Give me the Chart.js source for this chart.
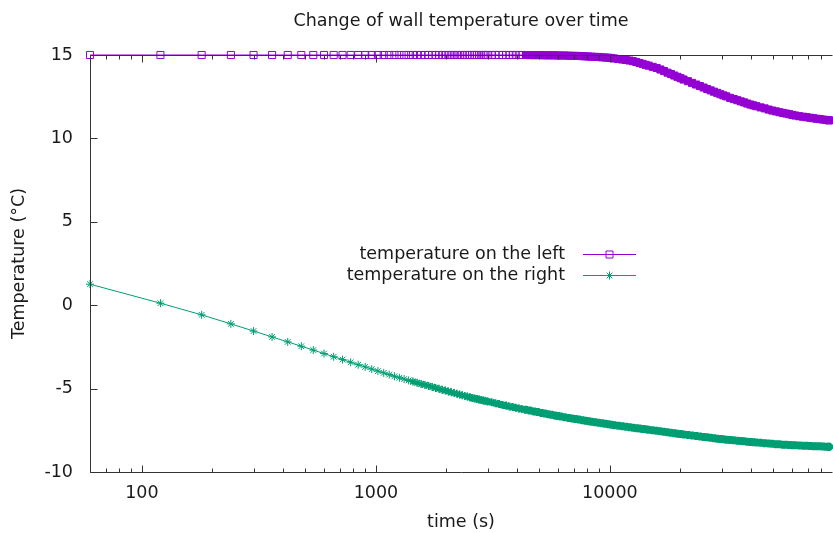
<!DOCTYPE html>
<html>
<head>
<meta charset="utf-8">
<script src="https://cdn.jsdelivr.net/npm/chart.js@4/dist/chart.umd.min.js"></script>
<style>
  body { margin: 0; background: #fff; }
  #chart { display: block; }
</style>
</head>
<body>
<canvas id="chart" width="833" height="533"></canvas>
<script>
const TITLE = 'Change of wall temperature over time';
const X_TITLE = 'time (s)';
const Y_TITLE = 'Temperature (°C)';

// time in seconds
const times = [
    60, 120, 180, 240, 300, 360, 420, 480, 540, 600,
    660, 720, 780, 840, 900, 960, 1020, 1080, 1140, 1200,
    1260, 1320, 1380, 1440, 1500, 1560, 1620, 1680, 1740, 1800,
    1860, 1920, 1980, 2040, 2100, 2160, 2220, 2280, 2340, 2400,
    2460, 2520, 2580, 2640, 2700, 2760, 2820, 2880, 2940, 3000,
    3120, 3240, 3360, 3480, 3600, 3720, 3840, 3960, 4080, 4200,
    4380, 4560, 4740, 4920, 5100, 5280, 5460, 5640, 5820, 6000, 6180,
    6420, 6660, 6900, 7140, 7380, 7620, 7860, 8100, 8340,
    8640, 8940, 9240, 9540, 9840, 10140, 10440,
    10860, 11280, 11700, 12120, 12540, 12960, 13380, 13800, 14220, 14640,
    15240, 15840, 16440, 17040, 17640, 18240, 18840, 19440, 20040, 20640,
    21540, 22440, 23340, 24240, 25140, 26040, 26940, 27840, 28740, 29640, 30540, 31440,
    32640, 33840, 35040, 36240, 37440, 38640, 39840, 41040, 42240,
    44040, 45840, 47640, 49440, 51240, 53040, 54840, 56640, 58440, 60240, 62040,
    64440, 66840, 69240, 71640, 74040, 76440, 78840, 81240, 83640, 86040,
    86400
];

const leftTemp = [
    15, 15, 15, 15, 15, 15, 15, 15, 15, 15,
    15, 15, 15, 15, 15, 15, 15, 15, 15, 15,
    15, 15, 15, 15, 15, 15, 15, 15, 15, 15,
    15, 15, 15, 15, 15, 15, 15, 15, 15, 15,
    15, 15, 15, 15, 15, 15, 15, 15, 15, 15,
    15, 15, 15, 15, 15, 15, 15, 15, 15, 15,
    15.00, 14.99, 14.99, 14.99, 14.99, 14.98, 14.98, 14.98, 14.98, 14.97, 14.97,
    14.97, 14.96, 14.95, 14.95, 14.94, 14.93, 14.92, 14.91, 14.90,
    14.89, 14.88, 14.86, 14.85, 14.84, 14.82, 14.79,
    14.76, 14.73, 14.70, 14.67, 14.63, 14.58, 14.52, 14.47, 14.41, 14.36,
    14.29, 14.22, 14.13, 14.04, 13.94, 13.86, 13.77, 13.69, 13.61, 13.53,
    13.43, 13.33, 13.23, 13.14, 13.05, 12.96, 12.88, 12.80, 12.73, 12.65, 12.58, 12.52,
    12.43, 12.36, 12.29, 12.22, 12.16, 12.09, 12.03, 11.98, 11.93,
    11.86, 11.80, 11.73, 11.67, 11.62, 11.57, 11.53, 11.49, 11.45, 11.41, 11.37,
    11.33, 11.30, 11.27, 11.24, 11.21, 11.18, 11.16, 11.13, 11.11, 11.09,
    11.08
];

const rightTemp = [
    1.26, 0.12, -0.58, -1.12, -1.55, -1.90, -2.20, -2.46, -2.69, -2.90,
    -3.09, -3.26, -3.42, -3.57, -3.70, -3.83, -3.95, -4.06, -4.16, -4.26,
    -4.35, -4.43, -4.51, -4.58, -4.65, -4.72, -4.78, -4.84, -4.90, -4.96,
    -5.01, -5.07, -5.12, -5.17, -5.22, -5.27, -5.31, -5.36, -5.40, -5.44,
    -5.48, -5.52, -5.56, -5.59, -5.62, -5.65, -5.68, -5.71, -5.74, -5.77,
    -5.82, -5.88, -5.93, -5.98, -6.02, -6.07, -6.11, -6.15, -6.19, -6.22,
    -6.27, -6.32, -6.37, -6.41, -6.46, -6.50, -6.54, -6.57, -6.61, -6.65, -6.68,
    -6.72, -6.76, -6.80, -6.83, -6.86, -6.89, -6.92, -6.95, -6.98,
    -7.01, -7.04, -7.07, -7.10, -7.13, -7.16, -7.19,
    -7.22, -7.25, -7.28, -7.31, -7.34, -7.37, -7.39, -7.42, -7.44, -7.47,
    -7.50, -7.53, -7.56, -7.59, -7.62, -7.65, -7.67, -7.70, -7.72, -7.75,
    -7.78, -7.81, -7.84, -7.87, -7.90, -7.92, -7.95, -7.97, -8.00, -8.02, -8.04, -8.06,
    -8.08, -8.10, -8.12, -8.14, -8.16, -8.18, -8.20, -8.21, -8.23,
    -8.25, -8.27, -8.29, -8.31, -8.33, -8.34, -8.36, -8.37, -8.38, -8.39, -8.40,
    -8.41, -8.42, -8.43, -8.44, -8.45, -8.46, -8.46, -8.47, -8.48, -8.49,
    -8.49
];

const xTicks = [100, 1000, 10000];
const xMinorTicks = [70, 80, 90, 200, 300, 400, 500, 600, 700, 800, 900,
    2000, 3000, 4000, 5000, 6000, 7000, 8000, 9000,
    20000, 30000, 40000, 50000, 60000, 70000, 80000];
const yTicks = [-10, -5, 0, 5, 10, 15];

const FONT = '"DejaVu Sans", sans-serif';
const FONT_SIZE = 17.5;
const TEXT_COLOR = '#1a1a1a';
const AXIS_COLOR = '#333333';
const DENSE_FROM = 4300; // markers merge into a solid band past here

Chart.defaults.font.family = FONT;
Chart.defaults.font.size = FONT_SIZE;
Chart.defaults.color = TEXT_COLOR;

function drawMarker(ctx, style, x, y, color) {
    ctx.strokeStyle = color;
    ctx.lineWidth = 1;
    ctx.beginPath();
    if (style === 'rect') {
        ctx.rect(x - 3.5, y - 3.5, 7, 7);
    } else {
        const r = 4;
        for (let k = 0; k < 4; k++) {
            const ang = k * Math.PI / 4;
            ctx.moveTo(x - r * Math.cos(ang), y - r * Math.sin(ang));
            ctx.lineTo(x + r * Math.cos(ang), y + r * Math.sin(ang));
        }
    }
    ctx.stroke();
}

const gnuplotLook = {
    id: 'gnuplotLook',
    afterDatasetsDraw(chart) {
        const {ctx, chartArea: a, scales: {x, y}} = chart;
        ctx.save();
        ctx.strokeStyle = AXIS_COLOR;
        ctx.lineWidth = 1;
        ctx.beginPath();
        const L = a.left + 0.5, R = Math.round(a.right) + 0.5, T = a.top + 0.5, B = a.bottom + 0.5;
        // right border lies just outside the picture
        ctx.moveTo(R, T); ctx.lineTo(L, T); ctx.lineTo(L, B); ctx.lineTo(R, B);
        xTicks.forEach(v => {
            const px = Math.round(x.getPixelForValue(v)) + 0.5;
            ctx.moveTo(px, B); ctx.lineTo(px, B - 7);
            ctx.moveTo(px, T); ctx.lineTo(px, T + 7);
        });
        xMinorTicks.forEach(v => {
            const px = Math.round(x.getPixelForValue(v)) + 0.5;
            ctx.moveTo(px, B); ctx.lineTo(px, B - 4);
            ctx.moveTo(px, T); ctx.lineTo(px, T + 4);
        });
        yTicks.forEach(v => {
            const py = Math.round(y.getPixelForValue(v)) + 0.5;
            ctx.moveTo(L, py); ctx.lineTo(L + 7, py);
        });
        ctx.stroke();

        // key in the middle of the plot
        ctx.font = FONT_SIZE + 'px ' + FONT;
        ctx.fillStyle = TEXT_COLOR;
        ctx.textAlign = 'right';
        ctx.textBaseline = 'middle';
        chart.data.datasets.forEach((ds, i) => {
            const ky = 254 + i * 21;
            ctx.fillText(ds.label, 565, ky);
            ctx.strokeStyle = ds.borderColor;
            ctx.beginPath();
            ctx.moveTo(583, ky + 0.5);
            ctx.lineTo(636, ky + 0.5);
            ctx.stroke();
            drawMarker(ctx, ds.pointStyle, 609.5, ky + 0.5, ds.borderColor);
        });

        ctx.textAlign = 'center';
        ctx.fillText(TITLE, (a.left + a.right) / 2, 21);
        ctx.restore();
    }
};

const isDense = c => c.raw && c.raw.x >= DENSE_FROM;
// stars get bolder as they crowd together, like the overplotted markers
const starWidth = c => {
    if (!c.raw) return 1;
    if (c.raw.x >= DENSE_FROM) return 3;
    if (c.raw.x >= 2500) return 2;
    if (c.raw.x >= 1400) return 1.5;
    return 1;
};

new Chart(document.getElementById('chart'), {
    type: 'line',
    data: {
        datasets: [{
            label: 'temperature on the left',
            data: times.map((t, i) => ({x: t, y: leftTemp[i]})),
            borderColor: '#9400d3',
            backgroundColor: 'transparent',
            borderWidth: 1,
            pointStyle: 'rect',
            pointRadius: 5,
            pointBorderWidth: 1,
            pointBackgroundColor: c => isDense(c) ? '#9400d3' : 'transparent',
            pointBorderColor: '#9400d3',
            clip: false
        }, {
            label: 'temperature on the right',
            data: times.map((t, i) => ({x: t, y: rightTemp[i]})),
            borderColor: '#009e73',
            backgroundColor: 'transparent',
            borderWidth: 1,
            pointStyle: 'star',
            pointRadius: 4,
            pointBorderWidth: starWidth,
            pointBorderColor: '#009e73',
            clip: false
        }]
    },
    options: {
        responsive: false,
        animation: false,
        events: [],
        layout: {autoPadding: false, padding: {top: 55, right: 1, left: 0, bottom: 0}},
        plugins: {
            legend: {display: false},
            title: {display: false},
            tooltip: {enabled: false}
        },
        scales: {
            x: {
                type: 'logarithmic',
                min: 60,
                max: 88950,
                afterBuildTicks: s => { s.ticks = xTicks.map(v => ({value: v})); },
                afterFit: s => { s.height = 61; },
                grid: {display: false, drawTicks: false},
                border: {display: false},
                ticks: {autoSkip: false, maxRotation: 0, padding: 11, callback: v => String(v)},
                title: {display: true, text: X_TITLE, padding: {top: 0, bottom: 0}}
            },
            y: {
                type: 'linear',
                min: -10,
                max: 15,
                afterBuildTicks: s => { s.ticks = yTicks.map(v => ({value: v})); },
                afterFit: s => { s.width = 90; },
                grid: {display: false, drawTicks: false},
                border: {display: false},
                ticks: {padding: 17, callback: v => String(v)},
                title: {display: true, text: Y_TITLE, padding: {top: 9, bottom: 0}}
            }
        }
    },
    plugins: [gnuplotLook]
});
</script>
</body>
</html>
